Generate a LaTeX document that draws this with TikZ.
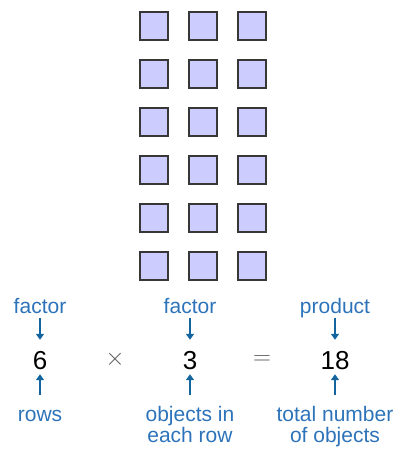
\documentclass[tikz,border=0pt]{standalone}
\usepackage{fontspec}
\setmainfont{Liberation Sans}
\usetikzlibrary{arrows.meta}
\definecolor{cellfill}{RGB}{204,204,255}
\definecolor{celledge}{RGB}{55,55,55}
\definecolor{labelblue}{RGB}{45,115,185}
\definecolor{arrowblue}{RGB}{20,100,160}
\definecolor{opgray}{RGB}{90,90,90}
\tikzset{
  cell/.style={fill=cellfill,draw=celledge,line width=2.4pt},
  bluetext/.style={text=labelblue,font=\fontsize{21}{21}\selectfont,inner sep=0pt,align=center},
  toplabel/.style={bluetext,anchor=base,text depth=0pt},
  botlabel/.style={bluetext,anchor=north},
  number/.style={font=\fontsize{26}{26}\selectfont,inner sep=0pt,anchor=base,text height=19pt,text depth=0pt},
  oper/.style={font=\fontsize{28}{28}\selectfont,text=opgray,inner sep=0pt},
  pointer/.style={draw=arrowblue,line width=1.6pt,-{Triangle[width=8pt,length=6pt]}}
}
\begin{document}
\begin{tikzpicture}[x=1pt,y=-1pt]
\useasboundingbox (0,0) rectangle (398,449);
\foreach \c in {0,1,2}
  \foreach \r in {0,...,5}
    \filldraw[cell] (140+49*\c,12+48*\r) rectangle ++(28,28);
\node[toplabel] (factorA) at (40,313) {factor};
\node[toplabel] (factorB) at (190,313) {factor};
\node[toplabel] (product) at (335,313) {product};
\node[number] (six) at (40,369) {6};
\node[number] (three) at (190,369) {3};
\node[number] (eighteen) at (335,369) {18};
\node[oper,font=\fontsize{34}{34}\selectfont] (times) at (115,359) {$\times$};
\node[oper] (equals) at (262,360) {$=$};
\node[botlabel,text height=15.3pt] (rows) at (40,405.7) {rows};
\node[botlabel] (objects) at (190,405.7) {objects in\\each row};
\node[botlabel] (total) at (335,405.7) {total number\\of objects};
\foreach \a/\b in {factorA/six,factorB/three,product/eighteen}
  \draw[pointer,shorten <=5pt,shorten >=10pt] (\a.south) -- (\b.north);
\foreach \a/\b in {rows/six,objects/three,total/eighteen}
  \draw[pointer,shorten <=10.5pt,shorten >=5pt] (\a.north) -- (\b.south);
\end{tikzpicture}
\end{document}
